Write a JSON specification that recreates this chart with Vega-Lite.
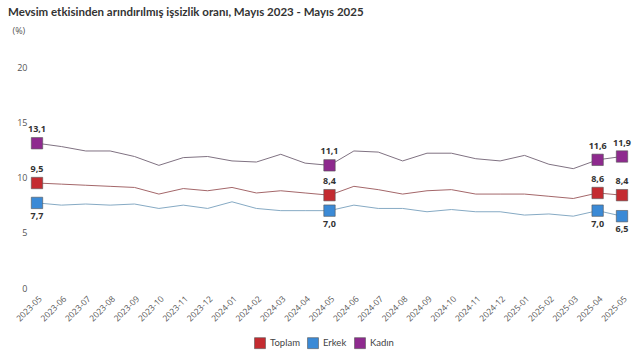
{
  "$schema": "https://vega.github.io/schema/vega-lite/v6.json",
  "autosize": {"type": "none"},
  "width": 585,
  "height": 221,
  "padding": {"left": 37, "top": 67, "right": 18, "bottom": 73},
  "background": "white",
  "config": {
    "view": {"stroke": null},
    "font": "Open Sans",
    "locale": {"number": {"decimal": ",", "thousands": ".", "grouping": [3], "currency": ["", ""]}}
  },
  "title": {
    "text": "Mevsim etkisinden arındırılmış işsizlik oranı, Mayıs 2023 - Mayıs 2025",
    "anchor": "start",
    "frame": "group",
    "dx": -29,
    "offset": 8,
    "fontSize": 11.5,
    "fontWeight": "bold",
    "color": "#333333",
    "font": "Lato"
  },
  "resolve": {"scale": {"color": "independent"}},
  "data": {
    "values": [
      {"date": "2023-05", "series": "Toplam", "value": 9.5},
      {"date": "2023-06", "series": "Toplam", "value": 9.4},
      {"date": "2023-07", "series": "Toplam", "value": 9.3},
      {"date": "2023-08", "series": "Toplam", "value": 9.2},
      {"date": "2023-09", "series": "Toplam", "value": 9.1},
      {"date": "2023-10", "series": "Toplam", "value": 8.5},
      {"date": "2023-11", "series": "Toplam", "value": 9.0},
      {"date": "2023-12", "series": "Toplam", "value": 8.8},
      {"date": "2024-01", "series": "Toplam", "value": 9.1},
      {"date": "2024-02", "series": "Toplam", "value": 8.6},
      {"date": "2024-03", "series": "Toplam", "value": 8.8},
      {"date": "2024-04", "series": "Toplam", "value": 8.6},
      {"date": "2024-05", "series": "Toplam", "value": 8.4},
      {"date": "2024-06", "series": "Toplam", "value": 9.2},
      {"date": "2024-07", "series": "Toplam", "value": 8.9},
      {"date": "2024-08", "series": "Toplam", "value": 8.5},
      {"date": "2024-09", "series": "Toplam", "value": 8.8},
      {"date": "2024-10", "series": "Toplam", "value": 8.9},
      {"date": "2024-11", "series": "Toplam", "value": 8.5},
      {"date": "2024-12", "series": "Toplam", "value": 8.5},
      {"date": "2025-01", "series": "Toplam", "value": 8.5},
      {"date": "2025-02", "series": "Toplam", "value": 8.3},
      {"date": "2025-03", "series": "Toplam", "value": 8.1},
      {"date": "2025-04", "series": "Toplam", "value": 8.6},
      {"date": "2025-05", "series": "Toplam", "value": 8.4},
      {"date": "2023-05", "series": "Erkek", "value": 7.7},
      {"date": "2023-06", "series": "Erkek", "value": 7.5},
      {"date": "2023-07", "series": "Erkek", "value": 7.6},
      {"date": "2023-08", "series": "Erkek", "value": 7.5},
      {"date": "2023-09", "series": "Erkek", "value": 7.6},
      {"date": "2023-10", "series": "Erkek", "value": 7.2},
      {"date": "2023-11", "series": "Erkek", "value": 7.5},
      {"date": "2023-12", "series": "Erkek", "value": 7.2},
      {"date": "2024-01", "series": "Erkek", "value": 7.8},
      {"date": "2024-02", "series": "Erkek", "value": 7.2},
      {"date": "2024-03", "series": "Erkek", "value": 7.0},
      {"date": "2024-04", "series": "Erkek", "value": 7.0},
      {"date": "2024-05", "series": "Erkek", "value": 7.0},
      {"date": "2024-06", "series": "Erkek", "value": 7.5},
      {"date": "2024-07", "series": "Erkek", "value": 7.2},
      {"date": "2024-08", "series": "Erkek", "value": 7.2},
      {"date": "2024-09", "series": "Erkek", "value": 6.9},
      {"date": "2024-10", "series": "Erkek", "value": 7.1},
      {"date": "2024-11", "series": "Erkek", "value": 6.9},
      {"date": "2024-12", "series": "Erkek", "value": 6.9},
      {"date": "2025-01", "series": "Erkek", "value": 6.6},
      {"date": "2025-02", "series": "Erkek", "value": 6.7},
      {"date": "2025-03", "series": "Erkek", "value": 6.5},
      {"date": "2025-04", "series": "Erkek", "value": 7.0},
      {"date": "2025-05", "series": "Erkek", "value": 6.5},
      {"date": "2023-05", "series": "Kadın", "value": 13.1},
      {"date": "2023-06", "series": "Kadın", "value": 12.8},
      {"date": "2023-07", "series": "Kadın", "value": 12.4},
      {"date": "2023-08", "series": "Kadın", "value": 12.4},
      {"date": "2023-09", "series": "Kadın", "value": 11.9},
      {"date": "2023-10", "series": "Kadın", "value": 11.1},
      {"date": "2023-11", "series": "Kadın", "value": 11.8},
      {"date": "2023-12", "series": "Kadın", "value": 11.9},
      {"date": "2024-01", "series": "Kadın", "value": 11.5},
      {"date": "2024-02", "series": "Kadın", "value": 11.4},
      {"date": "2024-03", "series": "Kadın", "value": 12.1},
      {"date": "2024-04", "series": "Kadın", "value": 11.3},
      {"date": "2024-05", "series": "Kadın", "value": 11.1},
      {"date": "2024-06", "series": "Kadın", "value": 12.4},
      {"date": "2024-07", "series": "Kadın", "value": 12.3},
      {"date": "2024-08", "series": "Kadın", "value": 11.5},
      {"date": "2024-09", "series": "Kadın", "value": 12.2},
      {"date": "2024-10", "series": "Kadın", "value": 12.2},
      {"date": "2024-11", "series": "Kadın", "value": 11.7},
      {"date": "2024-12", "series": "Kadın", "value": 11.5},
      {"date": "2025-01", "series": "Kadın", "value": 12.0},
      {"date": "2025-02", "series": "Kadın", "value": 11.2},
      {"date": "2025-03", "series": "Kadın", "value": 10.8},
      {"date": "2025-04", "series": "Kadın", "value": 11.6},
      {"date": "2025-05", "series": "Kadın", "value": 11.9}
    ]
  },
  "encoding": {
    "x": {
      "field": "date",
      "type": "ordinal",
      "scale": {"type": "point", "padding": 0},
      "axis": {
        "title": null,
        "labelAngle": -45,
        "labelAlign": "right",
        "labelBaseline": "top",
        "labelFontSize": 8.5,
        "labelColor": "#555555",
        "labelPadding": 6,
        "domain": false,
        "ticks": false,
        "grid": false
      }
    },
    "y": {
      "field": "value",
      "type": "quantitative",
      "scale": {"domain": [0, 20], "nice": false, "zero": true},
      "axis": {
        "values": [0, 5, 10, 15, 20],
        "title": "(%)",
        "titleAngle": 0,
        "titleX": -25,
        "titleY": -37,
        "titleAlign": "left",
        "titleBaseline": "middle",
        "titleFontSize": 9,
        "titleFontWeight": "normal",
        "titleColor": "#555555",
        "labelFontSize": 9,
        "labelColor": "#555555",
        "labelPadding": 10,
        "domain": false,
        "ticks": false,
        "grid": false
      }
    }
  },
  "layer": [
    {
      "mark": {"type": "line", "strokeWidth": 1},
      "encoding": {
        "color": {
          "field": "series",
          "type": "nominal",
          "scale": {"domain": ["Toplam", "Erkek", "Kadın"], "range": ["#a4676a", "#86aac4", "#807282"]},
          "legend": null
        }
      }
    },
    {
      "transform": [{"filter": {"field": "date", "oneOf": ["2023-05", "2024-05", "2025-04", "2025-05"]}}],
      "mark": {"type": "point", "shape": "square", "filled": true, "size": 130, "opacity": 1, "stroke": "#555555", "strokeWidth": 0.6},
      "encoding": {
        "color": {
          "field": "series",
          "type": "nominal",
          "sort": ["Toplam", "Erkek", "Kadın"],
          "scale": {"domain": ["Toplam", "Erkek", "Kadın"], "range": ["#c42b30", "#3b8ad6", "#8e2a8e"]},
          "legend": {
            "title": null,
            "orient": "none",
            "direction": "horizontal",
            "legendX": 217,
            "legendY": 270,
            "symbolType": "square",
            "symbolSize": 120,
            "symbolOpacity": 1,
            "symbolStrokeColor": "#555555",
            "symbolStrokeWidth": 0.6,
            "labelFont": "Lato",
            "labelFontSize": 9.5,
            "labelColor": "#444444",
            "columnPadding": 6,
            "labelOffset": 4
          }
        }
      }
    },
    {
      "transform": [
        {"filter": {"field": "date", "oneOf": ["2023-05", "2024-05", "2025-04", "2025-05"]}},
        {"filter": {"field": "series", "oneOf": ["Toplam", "Kadın"]}}
      ],
      "mark": {"type": "text", "dy": -14, "fontSize": 9, "fontWeight": "bold", "color": "#333333"},
      "encoding": {
        "text": {"field": "value", "type": "quantitative", "format": ".1f"}
      }
    },
    {
      "transform": [
        {"filter": {"field": "date", "oneOf": ["2023-05", "2024-05", "2025-04", "2025-05"]}},
        {"filter": {"field": "series", "equal": "Erkek"}}
      ],
      "mark": {"type": "text", "dy": 13, "fontSize": 9, "fontWeight": "bold", "color": "#333333"},
      "encoding": {
        "text": {"field": "value", "type": "quantitative", "format": ".1f"}
      }
    }
  ]
}
